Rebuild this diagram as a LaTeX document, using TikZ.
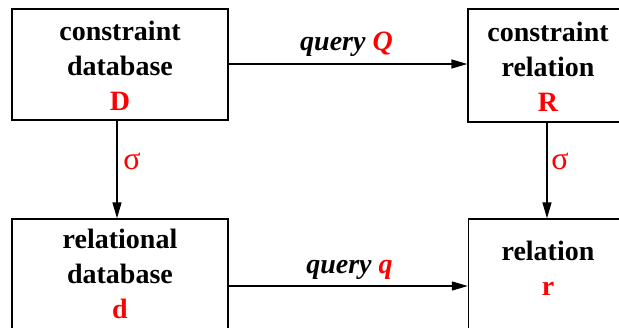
\documentclass[tikz,border=0pt]{standalone}
\usepackage{fontspec}
\setmainfont{Liberation Serif}
\usetikzlibrary{arrows.meta}
\begin{document}
\begin{tikzpicture}[x=1pt,y=-1pt,
  box/.style={draw, line width=1.4pt, inner sep=0pt},
  lbl/.style={align=center, inner sep=0pt, font=\bfseries\fontsize{28}{35}\selectfont},
  qlbl/.style={inner sep=0pt, anchor=base, font=\bfseries\itshape\fontsize{28}{34}\selectfont},
  sig/.style={inner sep=0pt, text=red, font=\fontsize{32}{36}\selectfont},
  arr/.style={line width=1.4pt, -{Triangle[length=16pt,width=9pt]}}]
\useasboundingbox (0,0) rectangle (619,327);
\clip (0,0) rectangle (619,327);
\node[box, minimum width=216pt, minimum height=111pt] (D) at (120,64.5) {};
\node[box, minimum width=160pt, minimum height=113pt] (R) at (548,65.5) {};
\node[box, minimum width=216pt, minimum height=112pt] (d) at (120,275) {};
\node[box, minimum width=160pt, minimum height=112pt] (r) at (548.5,275) {};
\node[lbl] (Dt) at (120,66) {constraint\\database\\\textcolor{red}{D}};
\node[lbl] (Rt) at (548,67) {constraint\\relation\\\textcolor{red}{R}};
\node[lbl] (dt) at (120,274) {relational\\database\\\textcolor{red}{d}};
\node[lbl] (rt) at (548,268) {relation\\\textcolor{red}{r}};
\node[qlbl] (qQ) at (346.5,50) {query \textcolor{red}{Q}};
\node[qlbl] (qq) at (349.5,273) {query \textcolor{red}{q}};
\node[sig] (s1) at (132,161) {σ};
\node[sig] (s2) at (560,161) {σ};
\draw[arr] (D.east |- 0,64) -- (R.west |- 0,64);
\draw[arr] (d.east |- 0,286) -- (r.west |- 0,286);
\draw[arr] (117,0 |- D.south) -- (117,0 |- d.north);
\draw[arr] (547,0 |- R.south) -- (547,0 |- r.north);
\end{tikzpicture}
\end{document}
